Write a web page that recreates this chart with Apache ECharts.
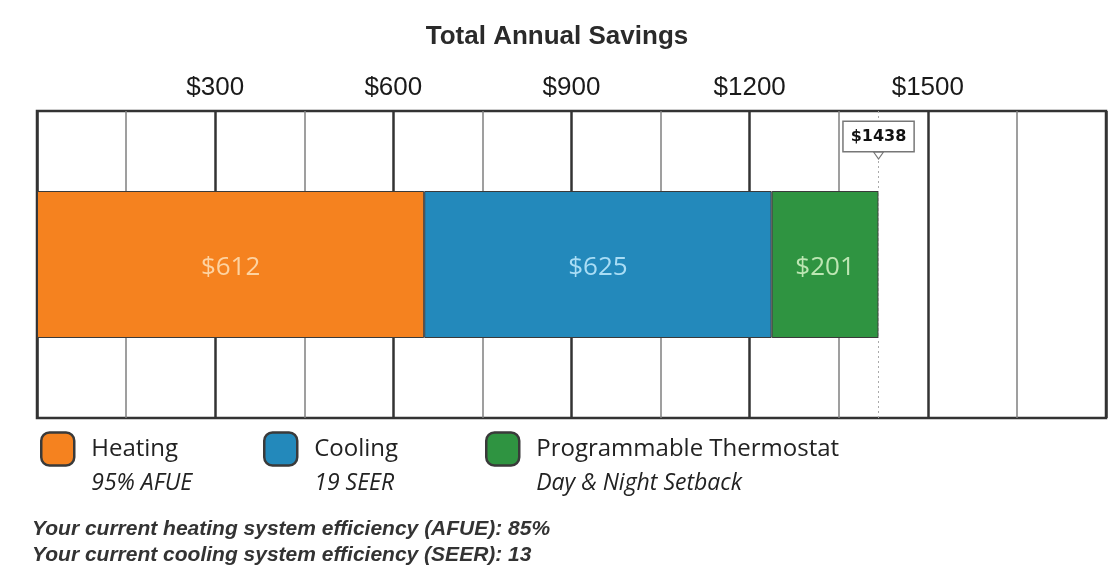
<!DOCTYPE html>
<html>
<head>
<meta charset="utf-8">
<script src="https://cdn.jsdelivr.net/npm/echarts@6/dist/echarts.min.js"></script>
<style>
html,body{margin:0;padding:0;background:#fff;}
#chart{width:1114px;height:574px;}
</style>
</head>
<body>
<div id="chart"></div>
<script>
// ---- data (bar lengths measured against the axis; labels as printed) ----
const categories = ['Savings'];
const seriesNames = ['Heating', 'Cooling', 'Programmable Thermostat'];
const seriesSubs = ['95% AFUE', '19 SEER', 'Day & Night Setback'];
const heatingValues = [652];
const coolingValues = [585];
const thermostatValues = [180];
const barLabels = ['$612', '$625', '$201'];
const totalLabel = '$1438';
const tickValues = [300, 600, 900, 1200, 1500];
const footerLines = [
  'Your current heating system efficiency (AFUE): 85%',
  'Your current cooling system efficiency (SEER): 13'
];

const colors = ['#F5821F', '#2389BB', '#2F9441'];
const labelColors = ['#FDD3A2', '#A9DDF5', '#BDE6B3'];
const FONT = '"Open Sans", "Liberation Sans", sans-serif';
const SANS = '"Liberation Sans", Arial, sans-serif';
const totalEnd = heatingValues[0] + coolingValues[0] + thermostatValues[0];

const chart = echarts.init(document.getElementById('chart'));

function barSeries(i, values) {
  return {
    name: seriesNames[i],
    type: 'bar',
    stack: 'total',
    barWidth: 147,
    data: values,
    itemStyle: { color: colors[i], borderColor: '#3a3a3a', borderWidth: 1 },
    label: {
      show: true,
      position: 'inside',
      offset: [0, 3],
      formatter: () => barLabels[i],
      color: labelColors[i],
      fontSize: 26,
      fontFamily: FONT
    },
    emphasis: { disabled: true }
  };
}

const s3 = barSeries(2, thermostatValues);
s3.markLine = {
  silent: true,
  symbol: 'none',
  label: { show: false },
  lineStyle: { color: '#aaa', type: [2, 3], width: 1 },
  data: [{ xAxis: totalEnd }]
};
s3.markPoint = {
  silent: true,
  data: [
    {
      coord: [totalEnd, categories[0]],
      symbol: 'triangle',
      symbolRotate: 180,
      symbolSize: [10, 7],
      symbolOffset: [0, -109],
      itemStyle: { color: '#fff', borderColor: '#777', borderWidth: 1 },
      label: { show: false }
    },
    {
      coord: [totalEnd, categories[0]],
      symbol: 'rect',
      symbolSize: [0, 0],
      label: {
        show: true,
        formatter: totalLabel,
        offset: [0, -128],
        backgroundColor: '#fff',
        borderColor: '#777',
        borderWidth: 1.5,
        padding: [7, 7, 6, 7],
        fontSize: 16,
        fontWeight: 'bold',
        color: '#111',
        fontFamily: '"DejaVu Sans", sans-serif'
      }
    }
  ]
};

function legendFor(i, left) {
  return {
    data: [seriesNames[i]],
    left: left,
    top: 398,
    padding: 0,
    icon: 'roundRect',
    itemWidth: 33,
    itemHeight: 33,
    selectedMode: false,
    formatter: name => '\n' + name + '\n{sub|' + seriesSubs[i] + '}',
    textStyle: {
      fontSize: 24,
      lineHeight: 34,
      color: '#222',
      fontFamily: FONT,
      padding: [0, 0, 0, 12],
      rich: { sub: { fontSize: 23, fontStyle: 'italic', color: '#222', lineHeight: 34, fontFamily: FONT } }
    },
    itemStyle: { borderColor: '#3a3a3a', borderWidth: 2.5 }
  };
}

chart.setOption({
  animation: false,
  backgroundColor: '#fff',
  title: [
    {
      text: 'Total Annual Savings',
      left: 'center',
      top: 19,
      textStyle: { fontSize: 26, fontWeight: 'bold', color: '#2a2a2a', fontFamily: SANS }
    },
    {
      text: footerLines.join('\n'),
      left: 32,
      top: 516,
      padding: 0,
      textStyle: {
        fontSize: 21,
        fontStyle: 'italic',
        fontWeight: 'bold',
        lineHeight: 26,
        color: '#333',
        fontFamily: SANS
      }
    }
  ],
  legend: [legendFor(0, 40), legendFor(1, 263), legendFor(2, 485)],
  grid: {
    left: 37, right: 8, top: 111, bottom: 156,
    show: true, borderColor: '#333', borderWidth: 2.5, containLabel: false
  },
  xAxis: {
    type: 'value',
    position: 'top',
    min: 0,
    max: 1800,
    interval: 300,
    axisLine: { show: false },
    axisTick: { show: false },
    axisLabel: {
      margin: 10,
      fontSize: 26,
      color: '#1a1a1a',
      fontFamily: SANS,
      formatter: v => (tickValues.indexOf(v) >= 0 ? '$' + v : '')
    },
    splitLine: { show: true, lineStyle: { color: '#333', width: 2.5 } },
    minorTick: { show: false, splitNumber: 2 },
    minorSplitLine: { show: true, lineStyle: { color: '#808080', width: 1.5 } }
  },
  yAxis: {
    type: 'category',
    data: categories,
    show: false
  },
  series: [barSeries(0, heatingValues), barSeries(1, coolingValues), s3]
});
</script>
</body>
</html>
